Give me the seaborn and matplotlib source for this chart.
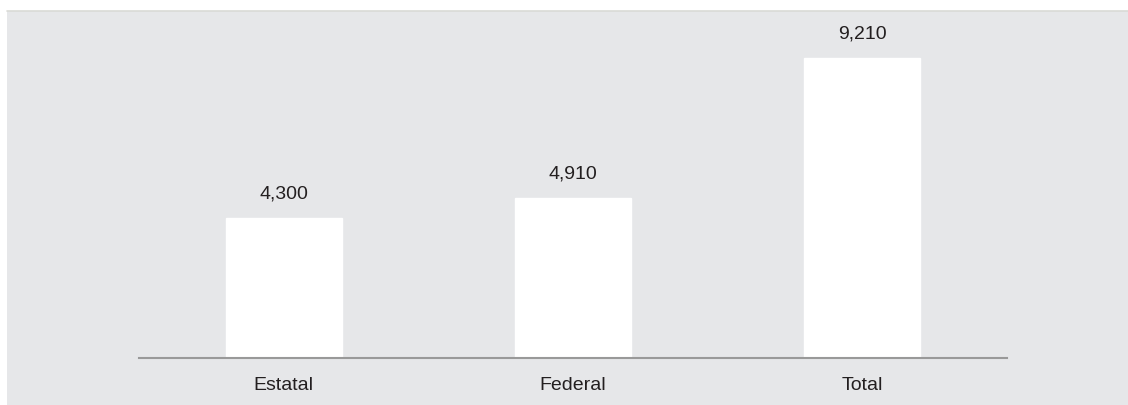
import pandas as pd
import seaborn as sns
import matplotlib.pyplot as plt
from matplotlib.patches import Rectangle
from matplotlib.lines import Line2D

# Datos
categorias = ['Estatal', 'Federal', 'Total']
valores = [4300, 4910, 9210]

df = pd.DataFrame({'categoria': categorias, 'valor': valores})

sns.set_style('white')
plt.rcParams['font.family'] = ['Liberation Sans', 'DejaVu Sans']

fondo = '#e6e7e9'
texto = '#231f20'

fig = plt.figure(figsize=(11.28, 4.05), dpi=100)
fig.patch.set_facecolor('white')

# Fondo gris del panel (detrás de los ejes)
fig.add_artist(Rectangle((7 / 1128, 0), 1, (405 - 11) / 405,
                         transform=fig.transFigure, facecolor=fondo,
                         edgecolor='none', zorder=-2))
fig.add_artist(Line2D([7 / 1128, 1], [(405 - 11) / 405] * 2,
                      transform=fig.transFigure, color='#d9dad6', lw=1.2,
                      zorder=-1))

ax = fig.add_axes([139 / 1128, 47 / 405, 868 / 1128, 347 / 405])
ax.set_facecolor('none')

sns.barplot(data=df, x='categoria', y='valor', color='white', width=0.4,
            saturation=1, ax=ax)

ax.set_xlim(-0.5, 2.5)
ax.set_ylim(0, 347 / 0.032558)

for p, v in zip(ax.patches, valores):
    ax.annotate(f'{v:,}', (p.get_x() + p.get_width() / 2, p.get_height()),
                xytext=(0, 11), textcoords='offset points',
                ha='center', va='bottom', fontsize=14, color=texto)

for s in ['top', 'right', 'left']:
    ax.spines[s].set_visible(False)
ax.spines['bottom'].set_color('#999999')
ax.spines['bottom'].set_linewidth(1.5)

ax.set_yticks([])
ax.tick_params(axis='x', length=0, pad=14, labelsize=14, labelcolor=texto)
ax.set_xlabel('')
ax.set_ylabel('')

fig.savefig('out.png', dpi=100)
